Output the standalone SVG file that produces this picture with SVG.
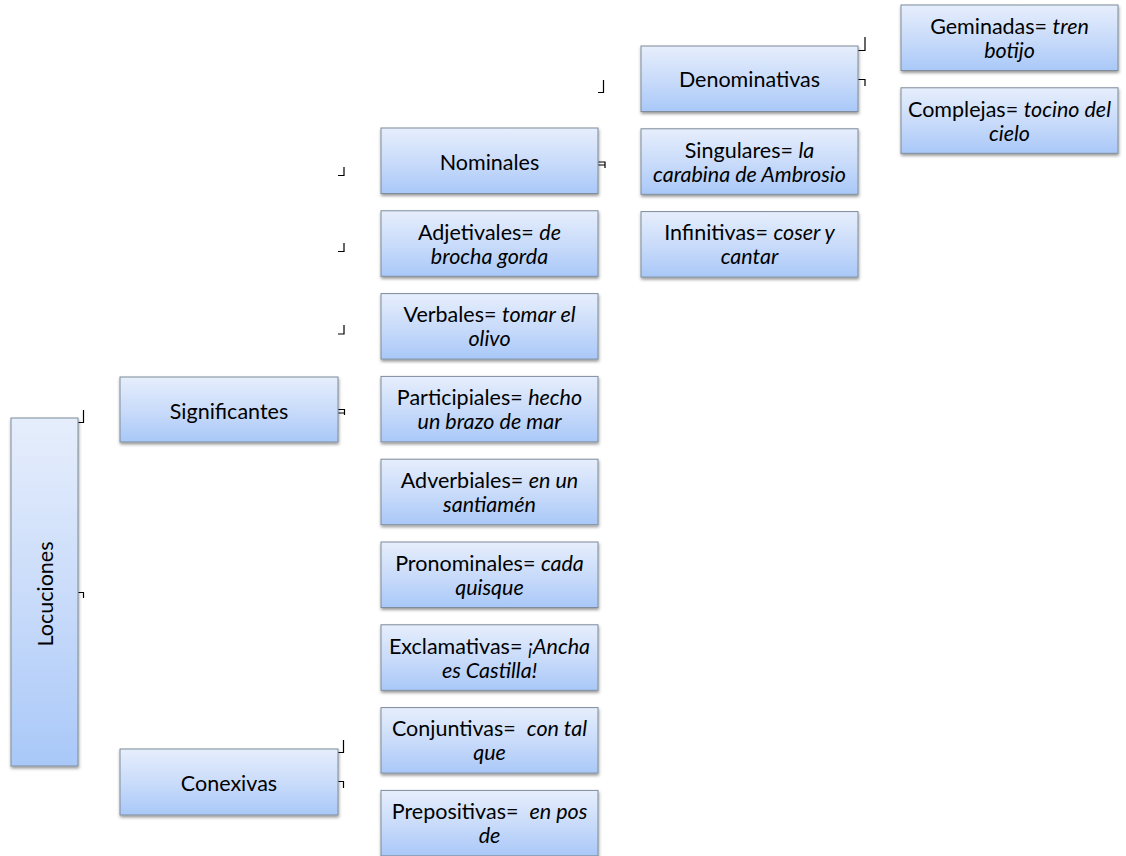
<svg xmlns="http://www.w3.org/2000/svg" width="1126" height="856" viewBox="0 0 1126 856">
<defs>
<linearGradient id="g" x1="0" y1="0" x2="0" y2="1">
<stop offset="0" stop-color="#e6eefc"/>
<stop offset="0.5" stop-color="#cadcfa"/>
<stop offset="1" stop-color="#a9c8f8"/>
</linearGradient>
<filter id="sh" x="-10%" y="-10%" width="120%" height="130%">
<feDropShadow dx="0.5" dy="2" stdDeviation="1.5" flood-color="#000" flood-opacity="0.4"/>
</filter>
<style>
.box{fill:url(#g);stroke:#7f8c9c;stroke-width:1;filter:url(#sh)}
text{font-family:Lato,"Open Sans","Liberation Sans",sans-serif;font-size:21.5px;fill:#000;text-anchor:middle}
.i{font-style:italic}
.c path{fill:none;stroke:#000;stroke-width:1.2}
</style>
</defs>
<rect width="1126" height="856" fill="#fff"/>
<g class="c" id="connectors">
<path d="M78,422.5 H83.5 V410"/>
<path d="M78,592.5 H83.5 V598"/>
<path d="M338,409.5 H344.5 V415 M338,413 H344.5"/>
<path d="M338,752.5 H343.5 V740"/>
<path d="M338,781.5 H343.5 V788"/>
<path d="M338,175.5 H344 V167"/>
<path d="M338,251.5 H344 V243"/>
<path d="M338,334 H344 V325"/>
<path d="M598,162 H605 V168 M598,165 H605"/>
<path d="M598,92.5 H603.5 V80"/>
<path d="M858,50.5 H865 V37"/>
<path d="M858,79.5 H865 V86"/>
</g>
<g id="locuciones"><rect class="box" x="11" y="418" width="67" height="348"/><text transform="translate(53,594) rotate(-90)">Locuciones</text></g>
<g id="significantes"><rect class="box" x="120" y="377" width="218" height="65"/><text x="229" y="419">Significantes</text></g>
<g id="conexivas"><rect class="box" x="120" y="749" width="218" height="66"/><text x="229" y="791">Conexivas</text></g>
<g id="nominales"><rect class="box" x="381" y="128" width="217" height="65.5"/><text x="489.5" y="170">Nominales</text></g>
<g id="adjetivales"><rect class="box" x="381" y="210.8" width="217" height="65.5"/><text x="489.5" y="239.5">Adjetivales= <tspan class="i">de</tspan></text><text class="i" x="489.5" y="263.5">brocha gorda</text></g>
<g id="verbales"><rect class="box" x="381" y="293.6" width="217" height="65.5"/><text x="489.5" y="322.3">Verbales= <tspan class="i">tomar el</tspan></text><text class="i" x="489.5" y="346.3">olivo</text></g>
<g id="participiales"><rect class="box" x="381" y="376.4" width="217" height="65.5"/><text x="489.5" y="405.1">Participiales= <tspan class="i">hecho</tspan></text><text class="i" x="489.5" y="429.1">un brazo de mar</text></g>
<g id="adverbiales"><rect class="box" x="381" y="459.2" width="217" height="65.5"/><text x="489.5" y="487.9">Adverbiales= <tspan class="i">en un</tspan></text><text class="i" x="489.5" y="511.9">santiamén</text></g>
<g id="pronominales"><rect class="box" x="381" y="542" width="217" height="65.5"/><text x="489.5" y="570.7">Pronominales= <tspan class="i">cada</tspan></text><text class="i" x="489.5" y="594.7">quisque</text></g>
<g id="exclamativas"><rect class="box" x="381" y="624.8" width="217" height="65.5"/><text x="489.5" y="653.5">Exclamativas= <tspan class="i">¡Ancha</tspan></text><text class="i" x="489.5" y="677.5">es Castilla!</text></g>
<g id="conjuntivas"><rect class="box" x="381" y="707.6" width="217" height="65.5"/><text x="489.5" y="736.3" style="white-space:pre">Conjuntivas=  <tspan class="i">con tal</tspan></text><text class="i" x="489.5" y="760.3">que</text></g>
<g id="prepositivas"><rect class="box" x="381" y="790.4" width="217" height="65.5"/><text x="489.5" y="819.1" style="white-space:pre">Prepositivas=  <tspan class="i">en pos</tspan></text><text class="i" x="489.5" y="843.1">de</text></g>
<g id="denominativas"><rect class="box" x="641" y="46" width="217" height="65.5"/><text x="749.5" y="87">Denominativas</text></g>
<g id="singulares"><rect class="box" x="641" y="128.8" width="217" height="65.5"/><text x="749.5" y="157.5">Singulares= <tspan class="i">la</tspan></text><text class="i" x="749.5" y="181.5">carabina de Ambrosio</text></g>
<g id="infinitivas"><rect class="box" x="641" y="211.6" width="217" height="65.5"/><text x="749.5" y="240.3">Infinitivas= <tspan class="i">coser y</tspan></text><text class="i" x="749.5" y="264.3">cantar</text></g>
<g id="geminadas"><rect class="box" x="901" y="5" width="217" height="65.5"/><text x="1009.5" y="33.7">Geminadas= <tspan class="i">tren</tspan></text><text class="i" x="1009.5" y="57.7">botijo</text></g>
<g id="complejas"><rect class="box" x="901" y="87.8" width="217" height="65.5"/><text x="1009.5" y="116.5">Complejas= <tspan class="i">tocino del</tspan></text><text class="i" x="1009.5" y="140.5">cielo</text></g>
</svg>
